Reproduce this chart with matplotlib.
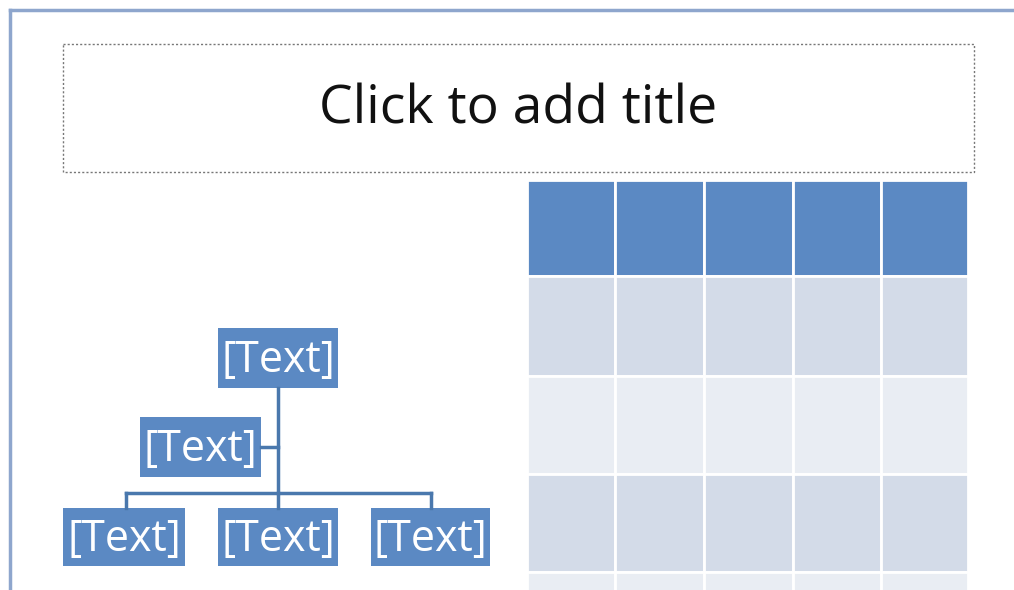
import matplotlib.pyplot as plt
from matplotlib.patches import Rectangle

# slide content
title_text = "Click to add title"
org_labels = ["[Text]", "[Text]", "[Text]", "[Text]", "[Text]"]
# boxes: (x0, y0, x1, y1) in slide pixels
org_boxes = [
    (218, 328, 338, 388),   # top
    (140, 417, 261, 477),   # assistant
    (63, 508, 185, 566),    # bottom left
    (218, 508, 338, 566),   # bottom middle
    (371, 508, 490, 566),   # bottom right
]
table_cols = [527, 615, 704, 793, 881, 968]
table_rows = [180, 276, 376, 474, 572, 600]
row_colors = ["#5b89c3", "#d3dbe8", "#e9edf3", "#d3dbe8", "#e9edf3"]

BOX = "#5b89c3"
LINE = "#4a78ad"

fig = plt.figure(figsize=(10.14, 5.90), dpi=100)
ax = fig.add_axes([0, 0, 1, 1])
ax.set_xlim(0, 1014)
ax.set_ylim(590, 0)
ax.axis("off")

# slide edges
ax.plot([10, 10], [10, 590], color="#8ea6cd", lw=2.5)
ax.plot([10, 1014], [10, 10], color="#8ea6cd", lw=2.5)

# title placeholder
ax.add_patch(Rectangle((63, 44), 911, 128, fill=False, ec="#777777",
                       lw=1, ls=(0, (1.5, 1.5))))
ax.text(518, 110, title_text, ha="center", va="center", fontsize=38.5,
        family="Open Sans", color="#111111")

# table cells
for i in range(len(table_rows) - 1):
    for j in range(len(table_cols) - 1):
        x0, x1 = table_cols[j], table_cols[j + 1]
        y0, y1 = table_rows[i], table_rows[i + 1]
        ax.add_patch(Rectangle((x0, y0), x1 - x0, y1 - y0,
                               fc=row_colors[i], ec="white", lw=2))

# org chart connectors
ax.plot([278, 278], [388, 493], color=LINE, lw=2.5)
ax.plot([126, 431], [493, 493], color=LINE, lw=2.5)
for x in [126, 278, 431]:
    ax.plot([x, x], [493, 508], color=LINE, lw=2.5)
ax.plot([261, 278], [447, 447], color=LINE, lw=2.5)

# org chart boxes
for label, (x0, y0, x1, y1) in zip(org_labels, org_boxes):
    ax.add_patch(Rectangle((x0, y0), x1 - x0, y1 - y0, fc=BOX, ec="none"))
    ax.text((x0 + x1) / 2, (y0 + y1) / 2 + 3, label, ha="center", va="center",
            fontsize=31, family="Open Sans", color="white")

fig.savefig("out.png", dpi=100)
